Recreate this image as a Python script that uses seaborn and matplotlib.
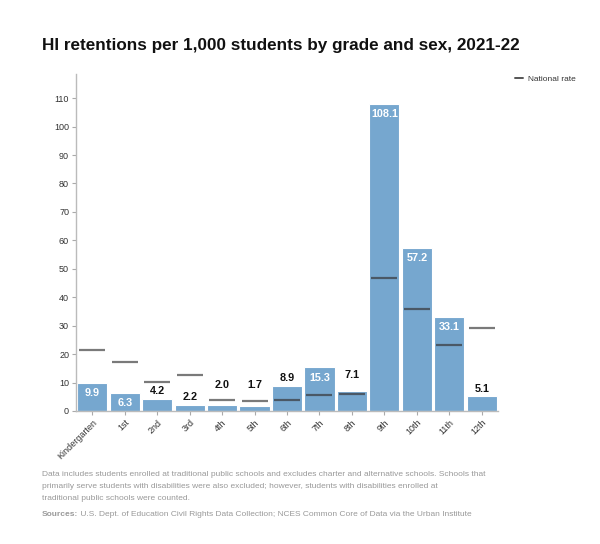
import matplotlib
matplotlib.use("Agg")
import matplotlib.pyplot as plt
from matplotlib.lines import Line2D
import seaborn as sns
import pandas as pd

grades = ["Kindergarten", "1st", "2nd", "3rd", "4th", "5th", "6th",
          "7th", "8th", "9th", "10th", "11th", "12th"]
rates = [9.9, 6.3, 4.2, 2.2, 2.0, 1.7, 8.9, 15.3, 7.1, 108.1, 57.2, 33.1, 5.1]
national = [21.5, 17.3, 10.2, 12.7, 3.8, 3.5, 4.0, 5.6, 6.0, 46.7, 35.7, 23.2, 29.1]
y_ticks = list(range(0, 111, 10))

title = "HI retentions per 1,000 students by grade and sex, 2021-22"
note_lines = ["Data includes students enrolled at traditional public schools and excludes charter and alternative schools. Schools that",
              "primarily serve students with disabilities were also excluded; however, students with disabilities enrolled at",
              "traditional public schools were counted."]
sources_label = "Sources:"
sources = " U.S. Dept. of Education Civil Rights Data Collection; NCES Common Core of Data via the Urban Institute"

sns.set_theme(style="white")
plt.rcParams["font.family"] = ["Liberation Sans", "DejaVu Sans"]

df = pd.DataFrame({"grade": grades, "rate": rates, "national": national})

fig = plt.figure(figsize=(6.0, 5.44), dpi=100)
ax = fig.add_axes([0.1267, 0.2445, 0.7033, 0.6195])

bar_color = "#76a7cf"
sns.barplot(data=df, x="grade", y="rate", color=bar_color, saturation=1,
            width=0.93, edgecolor="white", linewidth=0.8, ax=ax)

# national rate lines
for i, (v, n) in enumerate(zip(rates, national)):
    col = "#4a5866" if n < v else "#7a7a7a"
    ax.hlines(n, i - 0.4, i + 0.4, color=col, linewidth=1.6, zorder=4)

# value labels
for i, (v, n) in enumerate(zip(rates, national)):
    inside = v >= 6 and not (v - 5.5 <= n <= v + 0.5)
    txt = f"{v:.1f}"
    if inside:
        ax.annotate(txt, (i, v), xytext=(0, -7.3), textcoords="offset points",
                    ha="center", va="center", color="white", fontsize=7.8,
                    fontweight="bold", zorder=5)
    else:
        if (v < n <= v + 5) or (v - 1.5 <= n <= v):
            yy = max(v, n) + 5.5
        else:
            yy = max(v + 2.8, 5.0)
        ax.annotate(txt, (i, yy), ha="center", va="center",
                    color="#111111", fontsize=7.8, fontweight="bold", zorder=5)

ax.set_xlim(-0.5, 12.5)
ax.set_ylim(0, 118.5)
ax.set_yticks(y_ticks)
ax.set_yticklabels([str(t) for t in y_ticks])
ax.set_xlabel("")
ax.set_ylabel("")
ax.set_xticks(range(len(grades)))
ax.set_xticklabels(grades, rotation=45, ha="right", rotation_mode="anchor")

for s in ["top", "right"]:
    ax.spines[s].set_visible(False)
for s in ["left", "bottom"]:
    ax.spines[s].set_color("#bbbbbb")
    ax.spines[s].set_linewidth(1.0)
ax.tick_params(axis="both", which="both", length=3, width=0.8, color="#aaaaaa",
               labelsize=6.5, labelcolor="#333333", pad=2, left=True, bottom=True)

fig.text(0.07, 0.917, title, fontsize=12.3, fontweight="bold", color="#111111",
         ha="left", va="center")

handle = Line2D([0], [0], color="#555555", linewidth=1.4)
fig.legend([handle], ["National rate"], loc="center left",
           bbox_to_anchor=(0.845, 0.854), frameon=False, fontsize=6,
           handlelength=1.0, handletextpad=0.6, labelcolor="#333333")

fs = 6.0
note_y = [475, 487, 499]
for line, yp in zip(note_lines, note_y):
    fig.text(0.07, 1 - yp / 544, line, fontsize=fs, color="#999999",
             ha="left", va="center")
t = fig.text(0.07, 1 - 514 / 544, sources_label, fontsize=fs, color="#999999",
             fontweight="bold", ha="left", va="center")
fig.canvas.draw()
bb = t.get_window_extent()
x1 = bb.x1 / fig.bbox.width
fig.text(x1, 1 - 514 / 544, sources, fontsize=fs, color="#999999", ha="left", va="center")

fig.savefig("out.png", dpi=100, facecolor="white")
